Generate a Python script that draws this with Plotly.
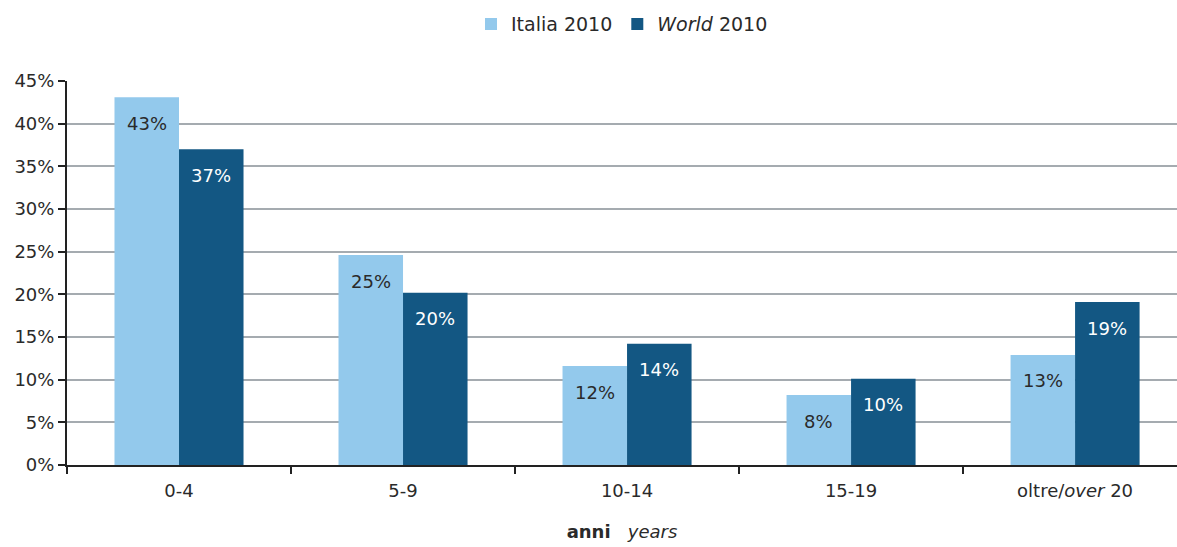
import plotly.graph_objects as go

# Age classes (years) and share of each series
categories = ["0-4", "5-9", "10-14", "15-19", "oltre/<i>over</i> 20"]
italia_2010 = [43.1, 24.6, 11.6, 8.2, 12.9]
world_2010 = [37.0, 20.2, 14.2, 10.1, 19.1]

ITALIA_COLOR = "#93C9EC"
WORLD_COLOR = "#135783"
TEXT = "#2a2a2a"
FONT = "DejaVu Sans"
BARGAP = 0.424

fig = go.Figure()
fig.add_trace(go.Bar(x=categories, y=italia_2010, name="Italia 2010",
                     marker=dict(color=ITALIA_COLOR, line_width=0)))
fig.add_trace(go.Bar(x=categories, y=world_2010, name="<i>World</i> 2010",
                     marker=dict(color=WORLD_COLOR, line_width=0)))

# Value labels just below the top of each bar (centred on each bar of the pair)
half = (1 - BARGAP) / 4
for vals, offset, color in ((italia_2010, -half, TEXT), (world_2010, half, "white")):
    for i, v in enumerate(vals):
        fig.add_annotation(x=i + offset, y=v, text=f"{round(v)}%", showarrow=False,
                           yshift=-26, font=dict(size=18, color=color, family=FONT))

fig.update_layout(
    width=1177, height=547,
    margin=dict(l=67, r=0, t=81, b=82),
    paper_bgcolor="white", plot_bgcolor="white",
    barmode="group", bargap=BARGAP, bargroupgap=0,
    font=dict(family=FONT, size=18, color=TEXT),
    legend=dict(orientation="h", x=0.5, xanchor="center", y=1.148, yanchor="middle",
                font=dict(size=19), itemwidth=30, traceorder="normal"),
    xaxis=dict(range=[-0.5, 4.455], tickson="boundaries", ticks="outside",
               ticklen=7, tickwidth=2, tickcolor="#222", showline=True,
               linecolor="#222", linewidth=2, showgrid=False, ticklabelstandoff=8,
               tickfont=dict(size=18),
               title=dict(text="<b>anni</b>   <i>years</i>",
                          font=dict(size=18), standoff=26)),
    yaxis=dict(range=[0, 45], dtick=5, ticksuffix="%", ticks="outside", ticklen=7,
               tickwidth=2, tickcolor="#222", showline=True, linecolor="#222",
               linewidth=2, showgrid=True, gridcolor="#A5ABB0", gridwidth=2,
               zeroline=False, tickfont=dict(size=18)),
)

fig.write_html("out.html")
